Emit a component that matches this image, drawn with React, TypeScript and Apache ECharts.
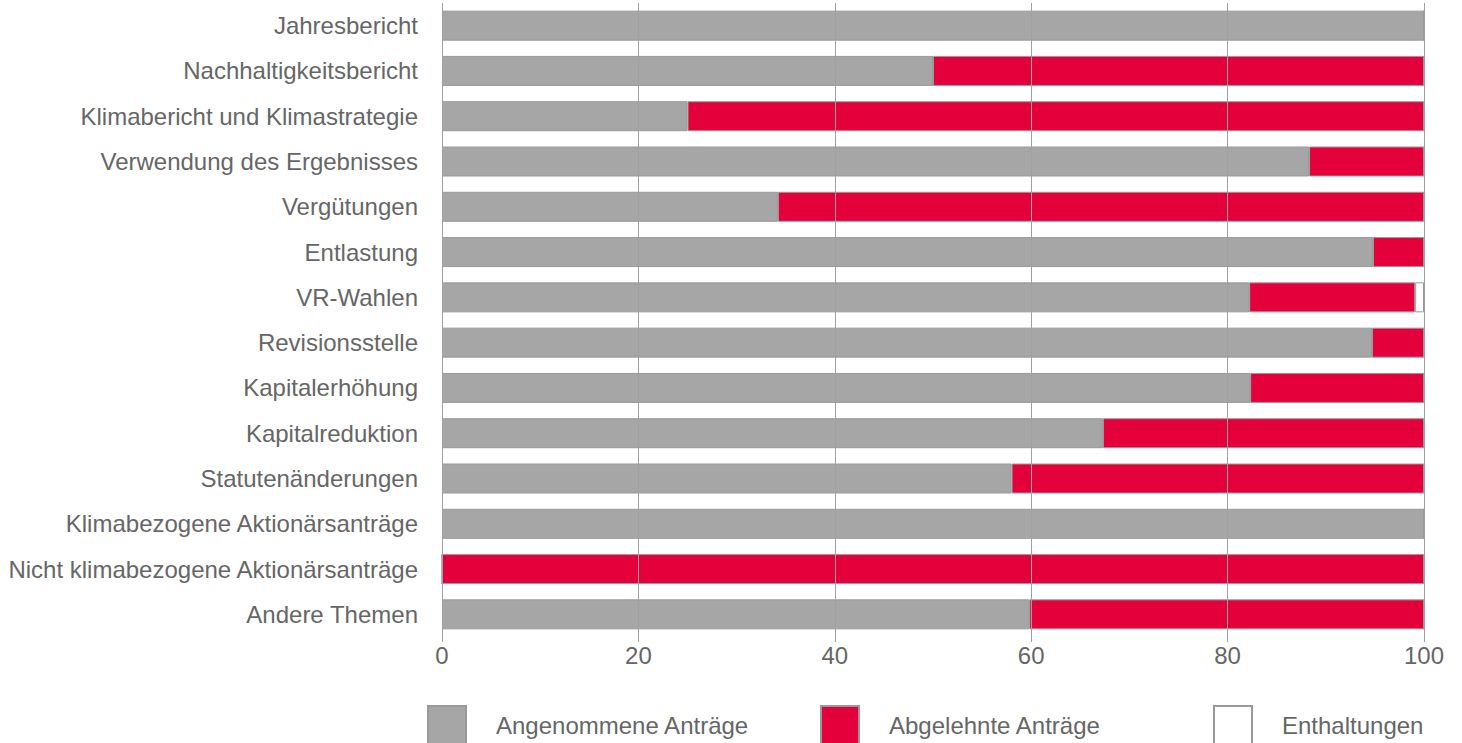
import React, { useEffect, useRef } from "react";
import * as echarts from "echarts";

const categories = [
  "Jahresbericht",
  "Nachhaltigkeitsbericht",
  "Klimabericht und Klimastrategie",
  "Verwendung des Ergebnisses",
  "Vergütungen",
  "Entlastung",
  "VR-Wahlen",
  "Revisionsstelle",
  "Kapitalerhöhung",
  "Kapitalreduktion",
  "Statutenänderungen",
  "Klimabezogene Aktionärsanträge",
  "Nicht klimabezogene Aktionärsanträge",
  "Andere Themen",
];
const angenommen = [100, 50, 25, 88.3, 34.2, 94.8, 82.2, 94.7, 82.3, 67.3, 58.0, 100, 0, 59.8];
const abgelehnt = [0, 50, 75, 11.7, 65.8, 5.2, 16.9, 5.3, 17.7, 32.7, 42.0, 0, 100, 40.2];
const enthaltungen = [0, 0, 0, 0, 0, 0, 0.9, 0, 0, 0, 0, 0, 0, 0];
const seriesNames = ["Angenommene Anträge", "Abgelehnte Anträge", "Enthaltungen"];
const xTicks = { min: 0, max: 100, interval: 20 };

const GREY = "#a6a6a6";
const RED = "#e4003a";
const TEXT = "#666666";
const FONT = "'Liberation Sans', Arial, sans-serif";
const FS = 24;

export default function App() {
  const ref = useRef<HTMLDivElement>(null);
  useEffect(() => {
    if (!ref.current) return;
    const chart = echarts.init(ref.current, undefined, { renderer: "svg" });
    const colors = [GREY, RED, "#ffffff"];
    const datas = [angenommen, abgelehnt, enthaltungen];
    const legendLefts = [422, 815, 1208];
    chart.setOption({
      animation: false,
      grid: { left: 442, right: 38, top: 3, bottom: 106 },
      xAxis: {
        type: "value",
        min: xTicks.min,
        max: xTicks.max,
        interval: xTicks.interval,
        z: 5,
        axisLine: { show: false },
        axisTick: { show: true, length: 5, lineStyle: { color: "#a0a0a0" } },
        splitLine: { show: true, lineStyle: { color: "#a0a0a0", width: 1 } },
        axisLabel: { color: TEXT, fontSize: FS, fontFamily: FONT, margin: 6 },
      },
      yAxis: {
        type: "category",
        data: categories,
        inverse: true,
        axisLine: { show: false },
        axisTick: { show: false },
        axisLabel: { color: TEXT, fontSize: FS, fontFamily: FONT, margin: 24 },
      },
      legend: seriesNames.map((n, i) => ({
        data: [n],
        left: legendLefts[i],
        top: 700,
        itemWidth: 38,
        itemHeight: 38,
        icon: "rect",
        selectedMode: false,
        textStyle: { color: TEXT, fontSize: FS, fontFamily: FONT, padding: [0, 0, 0, 25] },
      })),
      series: seriesNames.map((n, i) => ({
        name: n,
        type: "bar",
        stack: "total",
        barWidth: 30,
        data: datas[i],
        itemStyle: { color: colors[i], borderColor: "#999999", borderWidth: 1 },
      })),
    });
    return () => chart.dispose();
  }, []);
  return <div ref={ref} style={{ width: 1462, height: 743, position: "absolute", left: 0, top: 0 }} />;
}
